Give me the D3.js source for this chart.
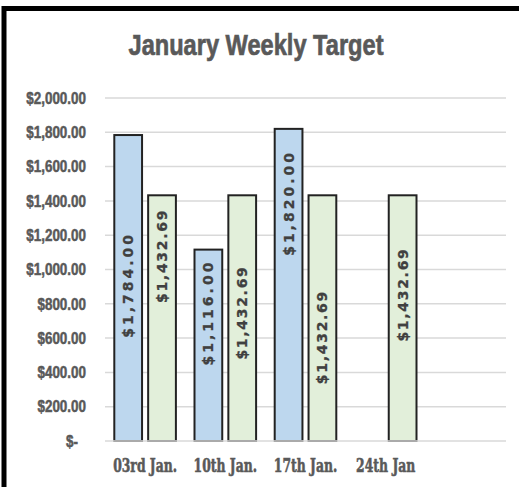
<!DOCTYPE html>
<html>
<head>
<meta charset="utf-8">
<script src="https://cdn.jsdelivr.net/npm/d3@7"></script>
<style>
  html, body { margin: 0; padding: 0; background: #fff; }
  svg { display: block; }
</style>
</head>
<body>
<div id="chart"></div>
<script>
// weekly figures
const WEEKS = ["03rd Jan.", "10th Jan.", "17th Jan.", "24th Jan", ""];
const ACTUAL = [1784, 1116, 1820, null, null];
const TARGET = [1432.69, 1432.69, 1432.69, 1432.69, null];
const Y_TICKS = [0, 200, 400, 600, 800, 1000, 1200, 1400, 1600, 1800, 2000];

// where each label sits (in value units), labels were moved by hand in the original
const ACTUAL_LABEL_AT = [910, 749, 1388, null, null];
const TARGET_LABEL_AT = [1079, 749, 606, 854, null];

const SERIES = [
  { key: "actual", values: ACTUAL, labelAt: ACTUAL_LABEL_AT, fill: "#bdd7ee", spacing: 3.0 },
  { key: "target", values: TARGET, labelAt: TARGET_LABEL_AT, fill: "#e2efda", spacing: 1.7 }
];

const width = 519, height = 487;
const plot = { left: 105, right: 506, top: 98, bottom: 441 };

const svg = d3.select("#chart").append("svg")
  .attr("width", width)
  .attr("height", height);

svg.append("rect").attr("width", width).attr("height", height).attr("fill", "#fff");

// outer frame (right/bottom sides fall outside the picture)
svg.append("rect")
  .attr("x", 4).attr("y", 8.5)
  .attr("width", width + 20).attr("height", height + 20)
  .attr("fill", "none")
  .attr("stroke", "#000")
  .attr("stroke-width", 5);

// title is a narrow bold face in the original, squeeze it to fit
svg.append("text")
  .attr("x", 256).attr("y", 55)
  .attr("text-anchor", "middle")
  .attr("font-family", "'Liberation Sans', Arial, sans-serif")
  .attr("font-weight", "bold")
  .attr("font-size", 30)
  .attr("textLength", 255)
  .attr("lengthAdjust", "spacingAndGlyphs")
  .attr("fill", "#595959")
  .attr("stroke", "#595959")
  .attr("stroke-width", 0.7)
  .text("January Weekly Target");

const y = d3.scaleLinear().domain([0, 2000]).range([plot.bottom, plot.top]);
const x0 = d3.scaleBand().domain(d3.range(WEEKS.length)).range([plot.left, plot.right]);
const pad = 9.3;
const x1 = d3.scaleBand().domain(SERIES.map(s => s.key))
  .range([pad, x0.bandwidth() - pad])
  .paddingInner(0.18);

const fmt = d3.format("$,.2f");

// gridlines
svg.append("g").selectAll("line")
  .data(Y_TICKS.filter(d => d > 0))
  .join("line")
  .attr("x1", plot.left).attr("x2", plot.right)
  .attr("y1", d => y(d)).attr("y2", d => y(d))
  .attr("stroke", "#d9d9d9")
  .attr("stroke-width", 1.5);

// y labels
svg.append("g").selectAll("text")
  .data(Y_TICKS)
  .join("text")
  .attr("transform", d => `translate(${d === 0 ? 78 : 86},${y(d)}) scale(0.84,1)`)
  .attr("dy", "0.36em")
  .attr("text-anchor", "end")
  .attr("font-family", "'Liberation Sans', Arial, sans-serif")
  .attr("font-weight", "bold")
  .attr("font-size", 16)
  .attr("fill", "#595959")
  .attr("stroke", "#595959")
  .attr("stroke-width", 0.5)
  .text(d => d === 0 ? "$-" : fmt(d));

// bars
SERIES.forEach(s => {
  const rows = s.values.map((v, i) => ({ i, v, at: s.labelAt[i] })).filter(d => d.v != null);

  svg.append("g").selectAll("rect")
    .data(rows)
    .join("rect")
    .attr("x", d => x0(d.i) + x1(s.key))
    .attr("y", d => y(d.v))
    .attr("width", x1.bandwidth())
    .attr("height", d => y(0) - y(d.v))
    .attr("fill", s.fill)
    .attr("stroke", "#222")
    .attr("stroke-width", 2);

  svg.append("g").selectAll("text")
    .data(rows)
    .join("text")
    .attr("transform", d => `translate(${x0(d.i) + x1(s.key) + x1.bandwidth() / 2},${y(d.at)}) rotate(-90)`)
    .attr("text-anchor", "middle")
    .attr("dy", "0.36em")
    .attr("font-family", "'DejaVu Sans', sans-serif")
    .attr("font-weight", "bold")
    .attr("font-size", 14)
    .attr("letter-spacing", s.spacing)
    .attr("fill", "#404040")
    .attr("stroke", "#404040")
    .attr("stroke-width", 0.3)
    .text(d => fmt(d.v));
});

// baseline
svg.append("line")
  .attr("x1", plot.left).attr("x2", plot.right)
  .attr("y1", y(0)).attr("y2", y(0))
  .attr("stroke", "#d9d9d9")
  .attr("stroke-width", 1.5);

// category labels: heavy condensed serif in the original
const catLabels = svg.append("g").selectAll("text")
  .data(WEEKS)
  .join("text")
  .attr("text-anchor", "middle")
  .attr("font-family", "'DejaVu Serif', serif")
  .attr("font-weight", "bold")
  .attr("font-size", 19)
  .attr("fill", "#595959")
  .attr("stroke", "#595959")
  .attr("stroke-width", 0.6)
  .text(d => d);

const firstW = catLabels.node().getComputedTextLength() || 64;
const sx = 64 / firstW;
catLabels.attr("transform", (d, i) => `translate(${x0(i) + x0.bandwidth() / 2},472) scale(${sx},1)`);
</script>
</body>
</html>
